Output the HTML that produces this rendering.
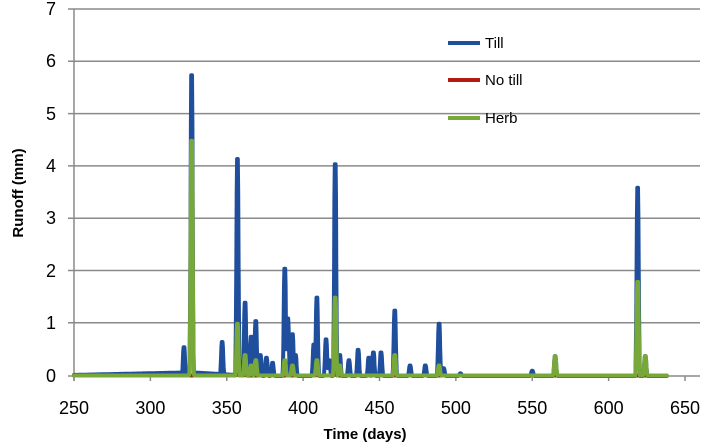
<!DOCTYPE html>
<html><head><meta charset="utf-8"><style>
body{margin:0;background:#fff;}
svg{display:block;font-family:"Liberation Sans",sans-serif;}
</style></head><body>
<svg id="s" width="707" height="442" viewBox="0 0 707 442" xmlns="http://www.w3.org/2000/svg">
<g stroke="#8a8a8a" stroke-width="1.5">
<line x1="68" y1="9" x2="700" y2="9"/>
<line x1="68" y1="61.3" x2="700" y2="61.3"/>
<line x1="68" y1="113.6" x2="700" y2="113.6"/>
<line x1="68" y1="165.9" x2="700" y2="165.9"/>
<line x1="68" y1="218.2" x2="700" y2="218.2"/>
<line x1="68" y1="270.5" x2="700" y2="270.5"/>
<line x1="68" y1="322.8" x2="700" y2="322.8"/>
<line x1="68" y1="376" x2="700" y2="376"/>
<line x1="74" y1="9" x2="74" y2="381"/>
</g>
<g stroke="#8a8a8a" stroke-width="1.5" id="xt"></g>
<g font-size="18" fill="#000" text-anchor="end">
<text x="56" y="15">7</text><text x="56" y="67">6</text><text x="56" y="120">5</text>
<text x="56" y="172">4</text><text x="56" y="224">3</text><text x="56" y="277">2</text>
<text x="56" y="329">1</text><text x="56" y="382">0</text>
</g>
<g font-size="18" fill="#000" text-anchor="middle" id="xl"></g>
<text x="365" y="439" font-size="15" font-weight="bold" text-anchor="middle">Time (days)</text>
<text transform="translate(23,193) rotate(-90)" font-size="15" font-weight="bold" text-anchor="middle">Runoff (mm)</text>
<g id="series" fill="none" stroke-width="4" stroke-linejoin="round" stroke-linecap="round"></g>
<g stroke-width="4">
<line x1="448" y1="43" x2="480" y2="43" stroke="#1f4e9c"/>
<line x1="448" y1="80" x2="480" y2="80" stroke="#b01c12"/>
<line x1="448" y1="118" x2="480" y2="118" stroke="#78a83a"/>
</g>
<g font-size="15" fill="#000">
<text x="485" y="48">Till</text><text x="485" y="85">No till</text><text x="485" y="123">Herb</text>
</g>
</svg>
<script>
var X=function(d){return 74+(d-250)*1.5275},Y=function(v){return 376-v*52.3};
var xt=document.getElementById('xt'),xl=document.getElementById('xl'),ns='http://www.w3.org/2000/svg';
for(var d=250;d<=650;d+=50){var l=document.createElementNS(ns,'line');l.setAttribute('x1',X(d));l.setAttribute('x2',X(d));l.setAttribute('y1',376);l.setAttribute('y2',381);xt.appendChild(l);
var t=document.createElementNS(ns,'text');t.setAttribute('x',X(d));t.setAttribute('y',414);t.textContent=d;xl.appendChild(t);}
var till=[[322,.55],[327,5.75],[347,.65],[357,4.15],[362,1.4],[366,.75],[369,1.05],[372,.4],[376,.35],[380,.25],[388,2.05],[390,1.1],[393,.8],[395,.4],[407,.6],[409,1.5],[415,.7],[417,.3],[421,4.05],[424,.4],[430,.3],[436,.5],[443,.35],[446,.45],[451,.45],[460,1.25],[470,.2],[480,.2],[489,1.0],[492,.15],[503,.05],[550,.1],[565,.38],[619,3.6],[624,.38]];
var herb=[[327,4.5],[357,1.0],[362,.4],[366,.2],[369,.3],[388,.3],[393,.2],[409,.3],[421,1.5],[424,.2],[460,.4],[489,.2],[565,.38],[619,1.8],[624,.38]];
var notill=[[357,.05],[362,.04],[409,.04],[421,.07]];
function base(d,k){if(k==0){return d<327?0.02+(d-250)/77*0.05:0.07*Math.max(0,1-(d-327)/40);}return 0.01;}
function path(pk,k){var pts=[];for(var d=250;d<=638;d+=0.25){var v=base(d,k);for(var i=0;i<pk.length;i++){var dd=Math.abs(d-pk[i][0]);var w=1.6;if(dd<0.4){v=Math.max(v,pk[i][1]);}else if(dd<w){v=Math.max(v,pk[i][1]*Math.pow(1-(dd-0.4)/(w-0.4),2));}}pts.push(X(d).toFixed(1)+','+Y(v).toFixed(1));}return 'M'+pts.join('L');}
var g=document.getElementById('series');
[[till,'#1f4e9c',0],[notill,'#b01c12',1],[herb,'#78a83a',2]].forEach(function(s){var p=document.createElementNS(ns,'path');p.setAttribute('d',path(s[0],s[2]));p.setAttribute('stroke',s[1]);g.appendChild(p);});
</script>
</body></html>
